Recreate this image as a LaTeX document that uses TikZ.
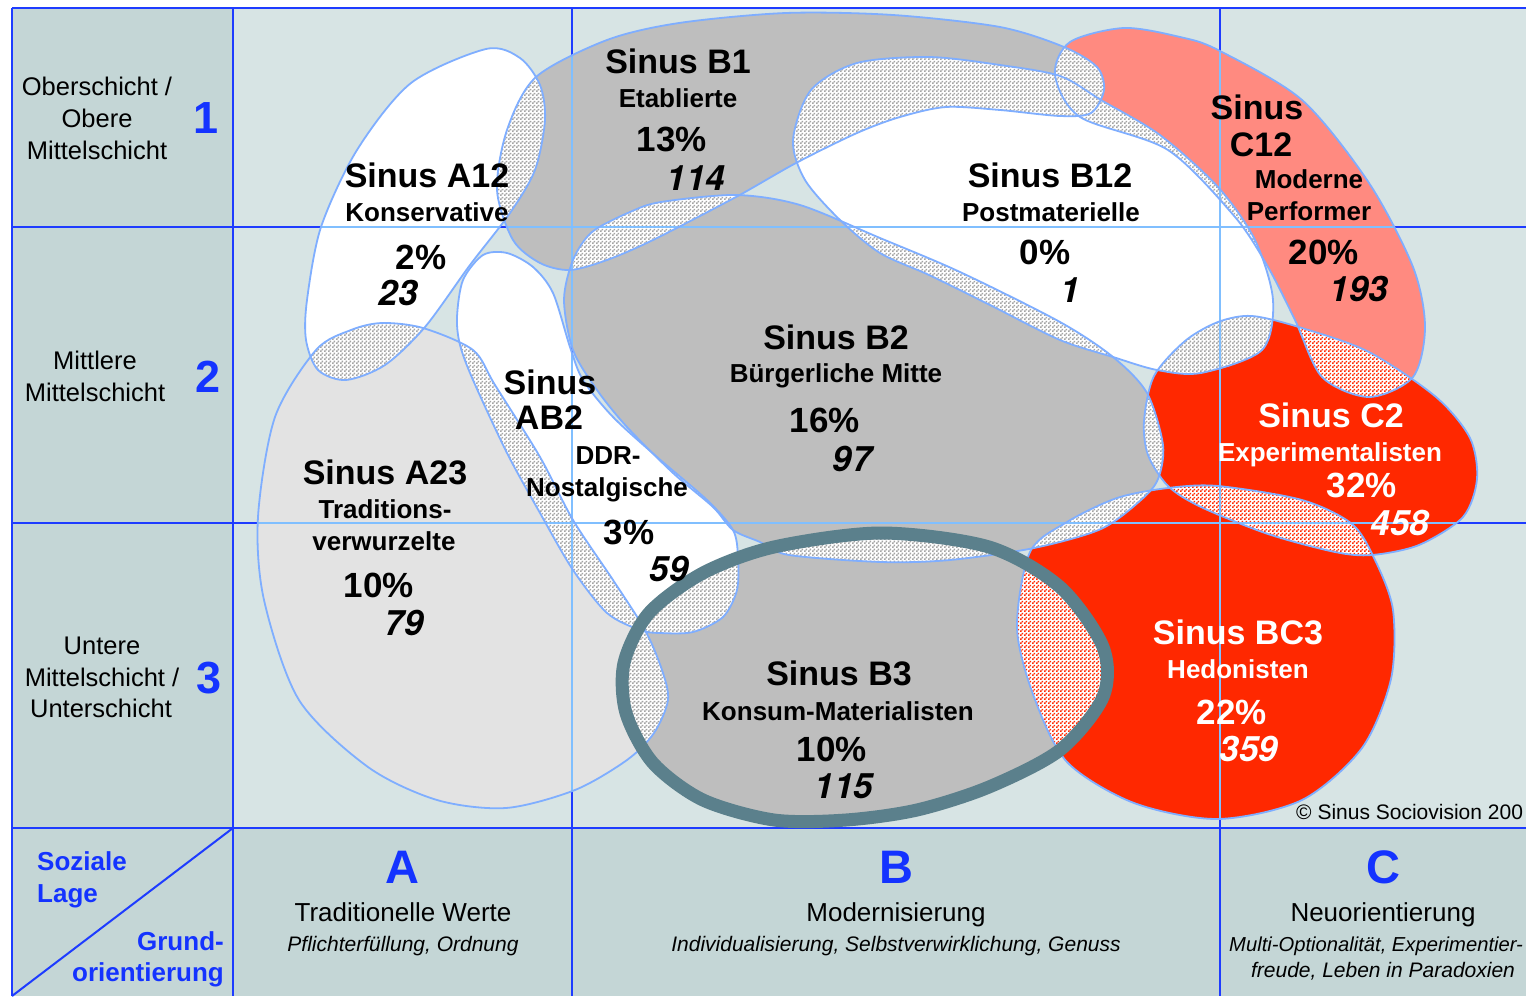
\documentclass[tikz,border=0pt]{standalone}
\usepackage{fontspec}
\setmainfont{Liberation Sans}
\newfontfamily\herosfont{TeX Gyre Heros}
\usetikzlibrary{patterns}
\pgfdeclarepatternformonly{checker}{\pgfqpoint{0pt}{0pt}}{\pgfqpoint{4pt}{4pt}}{\pgfqpoint{4pt}{4pt}}{%
  \pgfpathrectangle{\pgfqpoint{0pt}{0pt}}{\pgfqpoint{2pt}{2pt}}%
  \pgfpathrectangle{\pgfqpoint{2pt}{2pt}}{\pgfqpoint{2pt}{2pt}}%
  \pgfusepath{fill}}
\definecolor{bgmain}{HTML}{D7E4E4}
\definecolor{bgside}{HTML}{C4D6D6}
\definecolor{gridblue}{HTML}{1E3CFF}
\definecolor{gridlight}{HTML}{80BFFF}
\definecolor{blobline}{HTML}{7FAEFF}
\definecolor{greyblob}{HTML}{BEBEBE}
\definecolor{lightblob}{HTML}{E3E3E3}
\definecolor{salmonblob}{HTML}{FF8A80}
\definecolor{redblob}{HTML}{FF2800}
\definecolor{ringcol}{HTML}{5B808C}
\definecolor{hatchgrey}{HTML}{A4A4A4}
\definecolor{hatchred}{HTML}{FF2800}
\definecolor{bluetext}{HTML}{1433FF}
% blob outlines
\newcommand\shpAtw{plot[smooth cycle] coordinates {(486,49)(520,58)(540,85)(545,120)(535,170)(510,213)(470,265)(425,327)(385,365)(346,380)(318,370)(306,340)(307,300)(321,227)(357,150)(411,83)}}
\newcommand\shpBone{plot[smooth cycle] coordinates {(497,190)(507,130)(536,77)(607,40)(679,23)(786,13)(893,15)(1000,27)(1064,47)(1097,67)(1104,90)(1091,113)(1060,116)(1000,110)(946,107)(900,117)(857,133)(796,163)(736,197)(653,240)(607,260)(570,270)(540,263)(513,240)}}
\newcommand\shpBtw{plot[smooth cycle] coordinates {(793,140)(811,90)(857,63)(929,57)(1000,65)(1060,76)(1101,100)(1160,135)(1218,187)(1255,240)(1273,300)(1262,350)(1201,373)(1157,370)(1113,357)(1060,340)(990,305)(929,275)(880,253)(840,220)(805,180)}}
\newcommand\shpCtw{plot[smooth cycle] coordinates {(1055,75)(1070,42)(1124,28)(1180,37)(1218,50)(1302,100)(1369,183)(1413,267)(1425,327)(1413,377)(1369,397)(1322,377)(1295,320)(1268,267)(1235,217)(1168,150)(1080,117)}}
\newcommand\shpBtwo{plot[smooth cycle] coordinates {(564,300)(573,260)(592,232)(630,212)(661,202)(736,195)(800,205)(880,238)(960,272)(1060,322)(1113,357)(1147,393)(1163,445)(1158,479)(1141,500)(1101,529)(1034,548)(950,560)(881,562)(789,555)(760,542)(733,530)(713,507)(673,473)(627,427)(597,390)(573,350)}}
\newcommand\shpABtwo{plot[smooth cycle] coordinates {(457,317)(463,280)(483,255)(507,253)(533,267)(553,293)(570,347)(583,380)(613,417)(657,457)(707,500)(733,530)(738,557)(737,590)(723,617)(693,632)(660,633)(640,630)(607,613)(573,570)(540,513)(507,453)(473,380)(460,345)}}
\newcommand\shpAtt{plot[smooth cycle] coordinates {(316,350)(351,330)(382,323)(423,328)(473,350)(495,385)(540,457)(573,520)(613,580)(645,630)(662,670)(668,700)(654,733)(627,760)(575,790)(506,808)(437,800)(368,767)(299,700)(264,600)(258,517)(275,417)}}
\newcommand\shpCtwo{plot[smooth cycle] coordinates {(1185,341)(1218,322)(1252,316)(1302,328)(1369,352)(1436,397)(1470,438)(1477,479)(1463,517)(1419,545)(1372,555)(1335,552)(1268,534)(1201,507)(1168,486)(1148,455)(1144,421)(1154,376)}}
\newcommand\shpBCth{plot[smooth cycle] coordinates {(1117,498)(1168,488)(1218,486)(1302,500)(1352,524)(1375,560)(1393,610)(1391,679)(1362,748)(1302,800)(1218,819)(1134,803)(1067,762)(1034,697)(1017,628)(1030,552)(1067,522)}}
\newcommand\shpBth{plot[smooth cycle] coordinates {(881,533)(989,547)(1060,587)(1103,647)(1103,697)(1060,750)(989,787)(917,810)(846,820)(774,820)(703,800)(653,763)(626,713)(624,663)(649,613)(703,573)(774,547)}}
\newcommand\hatchpair[3]{\begin{scope}\clip #1;\fill[white] #2;\fill[pattern=checker,pattern color=#3] #2;\end{scope}}
\newcommand\lightlines[1]{\begin{scope}\clip #1;\draw[lightgrid] (572,8)--(572,828) (1220,8)--(1220,828) (12,227)--(1526,227) (12,523)--(1526,523);\end{scope}}
\tikzset{
  blobedge/.style={draw=blobline,line width=1.8pt},
  darkgrid/.style={draw=gridblue,line width=2.4pt},
  lightgrid/.style={draw=gridlight,line width=1.4pt},
  txt/.style={inner sep=0pt,anchor=base},
  ttl/.style={txt,font=\bfseries\fontsize{34}{36}\selectfont,yshift=-12.2pt},
  sub/.style={txt,font=\bfseries\fontsize{26}{30}\selectfont,yshift=-9.3pt},
  pct/.style={txt,font=\bfseries\fontsize{35}{40}\selectfont,yshift=-12.5pt},
  num/.style={txt,font=\herosfont\bfseries\itshape\fontsize{35}{40}\selectfont,yshift=-12.5pt},
  side/.style={txt,font=\fontsize{25.5}{30}\selectfont,yshift=-9.1pt},
  digit/.style={txt,font=\bfseries\fontsize{45}{50}\selectfont,text=bluetext,yshift=-16.1pt},
  letter/.style={txt,font=\bfseries\fontsize{47}{50}\selectfont,text=bluetext,yshift=-16.8pt},
  axis/.style={txt,font=\fontsize{26}{30}\selectfont,yshift=-9.3pt},
  axisit/.style={txt,font=\itshape\fontsize{21}{24}\selectfont,yshift=-7.5pt},
  bluelab/.style={txt,font=\bfseries\fontsize{26}{30}\selectfont,text=bluetext,yshift=-9.3pt},
  copyr/.style={txt,font=\fontsize{21}{24}\selectfont,yshift=-7.5pt},
  wht/.style={text=white}
}
\begin{document}
\begin{tikzpicture}[x=1pt,y=-1pt]
\useasboundingbox (0,0) rectangle (1526,996);
\clip (0,0) rectangle (1526,996);
\fill[white] (0,0) rectangle (1526,996);
% backgrounds
\fill[bgmain] (233,8) rectangle (1526,828);
\fill[bgside] (12,8) rectangle (233,828);
\fill[bgside] (12,828) rectangle (1526,996);
% dark grid
\draw[darkgrid] (12,8)--(1526,8) (12,227)--(1526,227) (12,523)--(1526,523) (12,828)--(1526,828);
\draw[darkgrid] (12,8)--(12,996) (233,8)--(233,996) (572,8)--(572,996) (1220,8)--(1220,996);
\draw[gridblue,line width=2pt] (12,996)--(233,828);
% blob fills
\fill[lightblob] \shpAtt;
\fill[white] \shpAtw;
\fill[white] \shpABtwo;
\fill[greyblob] \shpBone;
\fill[white] \shpBtw;
\fill[salmonblob] \shpCtw;
\fill[greyblob] \shpBtwo;
\fill[redblob] \shpCtwo;
\fill[redblob] \shpBCth;
\fill[greyblob] \shpBth;
% overlaps
\hatchpair{\shpAtw}{\shpBone}{hatchgrey}
\hatchpair{\shpAtw}{\shpAtt}{hatchgrey}
\hatchpair{\shpAtt}{\shpABtwo}{hatchgrey}
\hatchpair{\shpAtt}{\shpBth}{hatchgrey}
\hatchpair{\shpABtwo}{\shpBtwo}{hatchgrey}
\hatchpair{\shpABtwo}{\shpBth}{hatchgrey}
\hatchpair{\shpBone}{\shpBtwo}{hatchgrey}
\hatchpair{\shpBone}{\shpBtw}{hatchgrey}
\hatchpair{\shpBone}{\shpCtw}{hatchgrey}
\hatchpair{\shpBtw}{\shpCtw}{hatchgrey}
\hatchpair{\shpBtw}{\shpBtwo}{hatchgrey}
\hatchpair{\shpBtw}{\shpCtwo}{hatchgrey}
\hatchpair{\shpBtwo}{\shpCtwo}{hatchgrey}
\hatchpair{\shpBtwo}{\shpBCth}{hatchgrey}
\hatchpair{\shpBtwo}{\shpBth}{hatchgrey}
\hatchpair{\shpCtw}{\shpCtwo}{hatchred}
\hatchpair{\shpCtwo}{\shpBCth}{hatchred}
\hatchpair{\shpBth}{\shpBCth}{hatchred}
% light grid lines over blobs
\lightlines{\shpAtt}
\lightlines{\shpAtw}
\lightlines{\shpABtwo}
\lightlines{\shpBone}
\lightlines{\shpBtw}
\lightlines{\shpCtw}
\lightlines{\shpBtwo}
\lightlines{\shpCtwo}
\lightlines{\shpBCth}
\lightlines{\shpBth}
% outlines
\draw[blobedge] \shpAtt;
\draw[blobedge] \shpAtw;
\draw[blobedge] \shpABtwo;
\draw[blobedge] \shpBone;
\draw[blobedge] \shpBtw;
\draw[blobedge] \shpCtw;
\draw[blobedge] \shpBtwo;
\draw[blobedge] \shpCtwo;
\draw[blobedge] \shpBCth;
\draw[ringcol,line width=13pt] \shpBth;
% left column
\node[side] (l1a) at (97,86) {Oberschicht /};
\node[side] (l1b) at (97,118) {Obere};
\node[side] (l1c) at (97,150) {Mittelschicht};
\node[digit] (d1) at (206,117) {1};
\node[side] (l2a) at (95,360) {Mittlere};
\node[side] (l2b) at (95,392) {Mittelschicht};
\node[digit] (d2) at (208,376) {2};
\node[side] (l3a) at (102,645) {Untere};
\node[side] (l3b) at (102,677) {Mittelschicht /};
\node[side] (l3c) at (101,708) {Unterschicht};
\node[digit] (d3) at (209,677) {3};
% corner
\node[bluelab,anchor=base west] (soz1) at (37,861) {Soziale};
\node[bluelab,anchor=base west] (soz2) at (37,893) {Lage};
\node[bluelab,anchor=base east] (gr1) at (224,941) {Grund-};
\node[bluelab,anchor=base east] (gr2) at (224,972) {orientierung};
% bottom row
\node[letter] (la) at (402,867) {A};
\node[axis] (ta) at (403,912) {Traditionelle Werte};
\node[axisit] (ia) at (403,944) {Pflichterfüllung, Ordnung};
\node[letter] (lb) at (896,867) {B};
\node[axis] (tb) at (896,912) {Modernisierung};
\node[axisit] (ib) at (896,944) {Individualisierung, Selbstverwirklichung, Genuss};
\node[letter] (lc) at (1383,867) {C};
\node[axis] (tc) at (1383,912) {Neuorientierung};
\node[axisit,anchor=base west,font=\itshape\fontsize{20.2}{24}\selectfont] (ic1) at (1229,944) {Multi-Optionalität, Experimentier-};
\node[axisit] (ic2) at (1383,970) {freude, Leben in Paradoxien};
\node[copyr,anchor=base west] (cp) at (1296,812) {© Sinus Sociovision 200};
% A12
\node[ttl] (a12t) at (427,175) {Sinus A12};
\node[sub] (a12s) at (427,212) {Konservative};
\node[pct] (a12p) at (421,257) {2\%};
\node[num] (a12n) at (398,293) {23};
% B1
\node[ttl] (b1t) at (678,61) {Sinus B1};
\node[sub] (b1s) at (678,98) {Etablierte};
\node[pct] (b1p) at (672,139) {13\%};
\node[num] (b1n) at (696,178) {114};
% B12
\node[ttl] (b12t) at (1050,175) {Sinus B12};
\node[sub] (b12s) at (1051,212) {Postmaterielle};
\node[pct] (b12p) at (1045,252) {0\%};
\node[num] (b12n) at (1070,290) {1};
% C12
\node[ttl] (c12t) at (1257,107) {Sinus};
\node[ttl] (c12u) at (1261,144) {C12};
\node[sub] (c12s) at (1309,179) {Moderne};
\node[sub] (c12r) at (1309,211) {Performer};
\node[pct] (c12p) at (1324,252) {20\%};
\node[num] (c12n) at (1359,289) {193};
% B2
\node[ttl] (b2t) at (836,337) {Sinus B2};
\node[sub] (b2s) at (836,373) {Bürgerliche Mitte};
\node[pct] (b2p) at (825,420) {16\%};
\node[num] (b2n) at (852,459) {97};
% AB2
\node[ttl] (ab2t) at (550,382) {Sinus};
\node[ttl] (ab2u) at (549,417) {AB2};
\node[sub] (ab2s) at (608,455) {DDR-};
\node[sub] (ab2r) at (607,487) {Nostalgische};
\node[pct] (ab2p) at (629,532) {3\%};
\node[num] (ab2n) at (669,569) {59};
% A23
\node[ttl] (a23t) at (385,472) {Sinus A23};
\node[sub] (a23s) at (385,509) {Traditions-};
\node[sub] (a23r) at (384,541) {verwurzelte};
\node[pct] (a23p) at (379,585) {10\%};
\node[num] (a23n) at (404,623) {79};
% C2
\node[ttl,wht] (c2t) at (1331,415) {Sinus C2};
\node[sub,wht] (c2s) at (1330,452) {Experimentalisten};
\node[pct,wht] (c2p) at (1362,485) {32\%};
\node[num,wht] (c2n) at (1400,523) {458};
% B3
\node[ttl] (b3t) at (839,673) {Sinus B3};
\node[sub] (b3s) at (838,711) {Konsum-Materialisten};
\node[pct] (b3p) at (832,749) {10\%};
\node[num] (b3n) at (844,786) {115};
% BC3
\node[ttl,wht] (bc3t) at (1238,632) {Sinus BC3};
\node[sub,wht] (bc3s) at (1238,669) {Hedonisten};
\node[pct,wht] (bc3p) at (1232,712) {22\%};
\node[num,wht] (bc3n) at (1249,749) {359};
\end{tikzpicture}
\end{document}
